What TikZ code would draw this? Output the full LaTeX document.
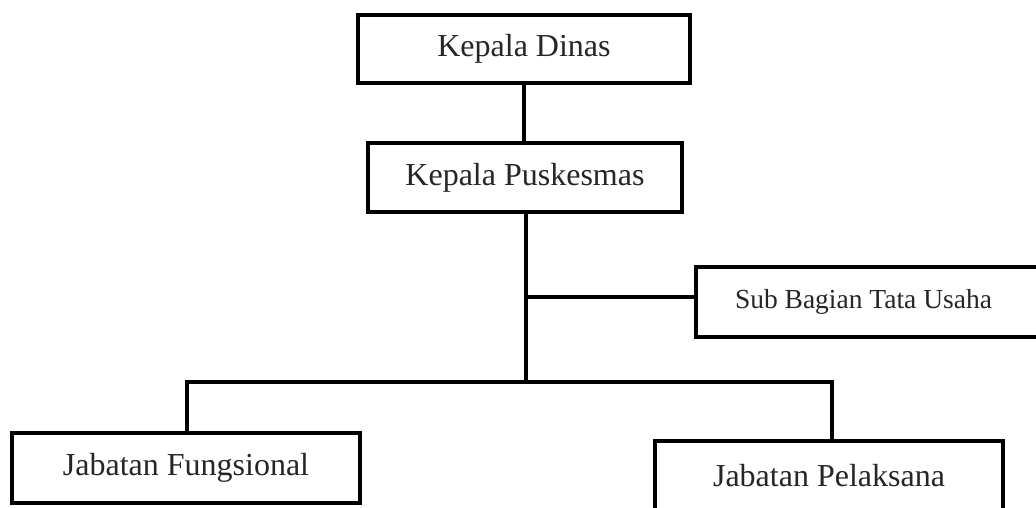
\documentclass[tikz,border=0pt]{standalone}
\usepackage{fontspec}
\setmainfont{Liberation Serif}
\begin{document}
\begin{tikzpicture}[x=1pt,y=-1pt,
  box/.style={draw=black, line width=3.2pt, fill=white, inner sep=0pt,
    font=\fontsize{32}{38}\selectfont, text=black!85},
  smallbox/.style={box, font=\fontsize{27.5}{33}\selectfont},
  conn/.style={draw=black, line width=3.2pt, line join=miter}]
\useasboundingbox (0,0) rectangle (1036,507);
\clip (0,0) rectangle (1036,507);
\fill[white] (0,0) rectangle (1036,507);
% nodes
\node[box, minimum width=332, minimum height=68] (kd) at (524,49) {Kepala Dinas};
\node[box, minimum width=314, minimum height=69] (kp) at (525,177.5) {Kepala Puskesmas};
\node[smallbox, minimum width=349, minimum height=70] (sb) at (870.5,302) {Sub Bagian Tata Usaha\hspace*{14pt}};
\node[box, minimum width=348, minimum height=70] (jf) at (186,468) {\raisebox{4pt}{Jabatan Fungsional}};
\node[box, minimum width=348, minimum height=72] (jp) at (829,477) {\raisebox{3pt}{Jabatan Pelaksana}};
% junction coordinates
\coordinate (sj) at (526,297);
\coordinate (bj) at (526,382);
\coordinate (lj) at (187,382);
\coordinate (rj) at (832,382);
% connectors
\draw[conn] (kd.south) -- (kd.south |- kp.north);
\draw[conn] (kp.south -| sj) -- (bj);
\draw[conn] (sj) -- (sj -| sb.west);
\draw[conn] (lj |- jf.north) -- (lj) -- (rj) -- (rj |- jp.north);
\end{tikzpicture}
\end{document}
